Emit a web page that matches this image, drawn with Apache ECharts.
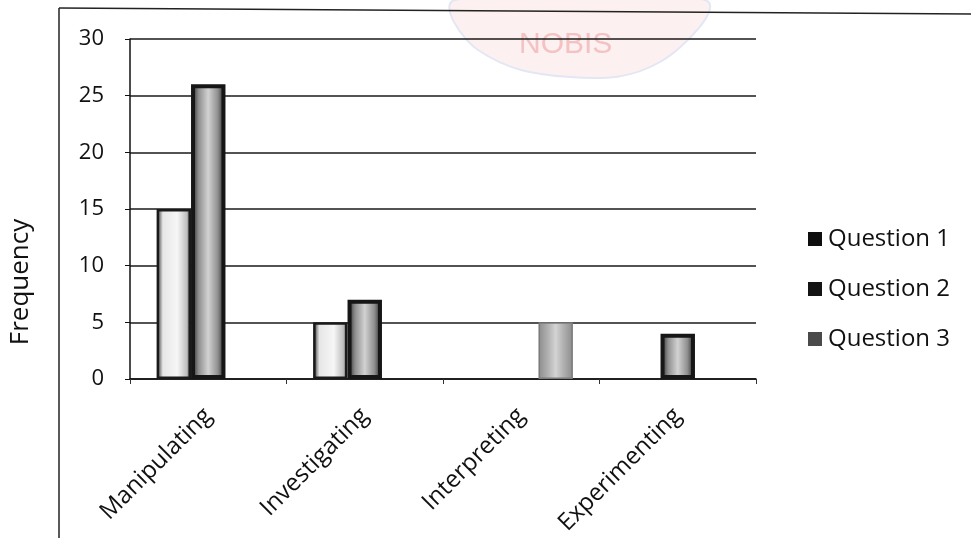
<!DOCTYPE html>
<html>
<head>
<meta charset="utf-8">
<script src="https://cdn.jsdelivr.net/npm/echarts@6/dist/echarts.min.js"></script>
<style>html,body{margin:0;padding:0;background:#fff;}#c{width:971px;height:546px;}</style>
</head>
<body>
<div id="c"></div>
<script>
const categories = ['Manipulating', 'Investigating', 'Interpreting', 'Experimenting'];
const seriesNames = ['Question 1', 'Question 2', 'Question 3'];
const question1 = [15, 5, 0, 0];
const question2 = [26, 7, 0, 4];
const question3 = [0, 0, 5, 0];
const yTicks = { min: 0, max: 30, interval: 5 };
const yAxisTitle = 'Frequency';

function hGrad(stops) {
  return { type: 'linear', x: 0, y: 0, x2: 1, y2: 0, colorStops: stops };
}
// zero-valued bars are not drawn as a border line
function toData(arr) {
  return arr.map(v => v === 0 ? { value: 0, itemStyle: { borderWidth: 0, opacity: 0 } } : v);
}
const FONT = 'Open Sans';
const chart = echarts.init(document.getElementById('c'));
chart.setOption({
  backgroundColor: '#ffffff',
  animation: false,
  textStyle: { fontFamily: FONT, color: '#111' },
  grid: { left: 130, top: 39, right: 215, bottom: 167, containLabel: false, outerBoundsMode: 'none' },
  legend: {
    orient: 'vertical',
    left: 803, top: 220,
    itemWidth: 14, itemHeight: 14, itemGap: 22,
    textStyle: { fontFamily: FONT, fontSize: 24, color: '#111', lineHeight: 28, padding: [0, 0, 0, 1] },
    data: [
      { name: seriesNames[0], icon: 'rect', itemStyle: { color: '#0e0e0e', borderWidth: 0 } },
      { name: seriesNames[1], icon: 'rect', itemStyle: { color: '#141414', borderWidth: 0 } },
      { name: seriesNames[2], icon: 'rect', itemStyle: { color: '#4a4a4a', borderWidth: 0 } }
    ]
  },
  xAxis: {
    type: 'category',
    data: categories,
    axisLine: { lineStyle: { color: '#111', width: 1.5 } },
    axisTick: { show: true, length: 5, lineStyle: { color: '#333' } },
    axisLabel: { rotate: 45, fontSize: 24, color: '#111', margin: 33, fontFamily: FONT }
  },
  yAxis: {
    type: 'value',
    min: yTicks.min, max: yTicks.max, interval: yTicks.interval,
    axisLine: { show: true, lineStyle: { color: '#111', width: 1.5 } },
    axisTick: { show: true, length: 5, lineStyle: { color: '#111' } },
    axisLabel: { fontSize: 22, color: '#111', margin: 26, fontFamily: FONT },
    splitLine: { lineStyle: { color: '#1a1a1a', width: 1.5 } }
  },
  series: [
    {
      name: seriesNames[0], type: 'bar', data: toData(question1),
      barGap: '0%', barCategoryGap: '34%',
      itemStyle: {
        color: hGrad([
          { offset: 0, color: '#1c1c1c' }, { offset: 0.18, color: '#e6e6e6' },
          { offset: 0.6, color: '#f6f6f6' }, { offset: 0.88, color: '#bdbdbd' },
          { offset: 1, color: '#2a2a2a' }
        ]),
        borderColor: '#1a1a1a', borderWidth: 2.5
      }
    },
    {
      name: seriesNames[1], type: 'bar', data: toData(question2),
      barGap: '0%', barCategoryGap: '34%',
      itemStyle: {
        color: hGrad([
          { offset: 0, color: '#1c1c1c' }, { offset: 0.22, color: '#8f8f8f' },
          { offset: 0.5, color: '#d2d2d2' }, { offset: 0.78, color: '#8f8f8f' },
          { offset: 1, color: '#1c1c1c' }
        ]),
        borderColor: '#161616', borderWidth: 4
      }
    },
    {
      name: seriesNames[2], type: 'bar', data: toData(question3),
      barGap: '0%', barCategoryGap: '34%',
      itemStyle: {
        color: hGrad([
          { offset: 0, color: '#8c8c8c' }, { offset: 0.3, color: '#b4b4b4' },
          { offset: 0.5, color: '#d4d4d4' }, { offset: 0.7, color: '#b4b4b4' },
          { offset: 1, color: '#8c8c8c' }
        ]),
        borderColor: '#7a7a7a', borderWidth: 1.5
      }
    }
  ],
  graphic: [
    { type: 'polygon', silent: true, z: -10,
      shape: { smooth: 0.4, points: [[455, 0], [478, 50], [570, 77], [660, 62], [705, 0]] },
      style: { fill: '#fdf0f0', stroke: '#e3e7f4', lineWidth: 2 } },
    { type: 'text', silent: true, left: 519, top: 30, z: -5,
      style: { text: 'NOBIS', fontSize: 30, fontFamily: 'Liberation Sans', fill: '#f3c2c2', letterSpacing: 4 } },
    { type: 'line', silent: true, shape: { x1: 59, y1: 8, x2: 971, y2: 14 }, style: { stroke: '#222', lineWidth: 1.5 } },
    { type: 'line', silent: true, shape: { x1: 59, y1: 8, x2: 59, y2: 538 }, style: { stroke: '#222', lineWidth: 1.5 } },
    { type: 'text', silent: true, x: 21, y: 282, rotation: Math.PI / 2,
      style: { text: yAxisTitle, fontSize: 26, fontFamily: FONT, fill: '#111', align: 'center', verticalAlign: 'middle' } }
  ]
});
</script>
</body>
</html>
